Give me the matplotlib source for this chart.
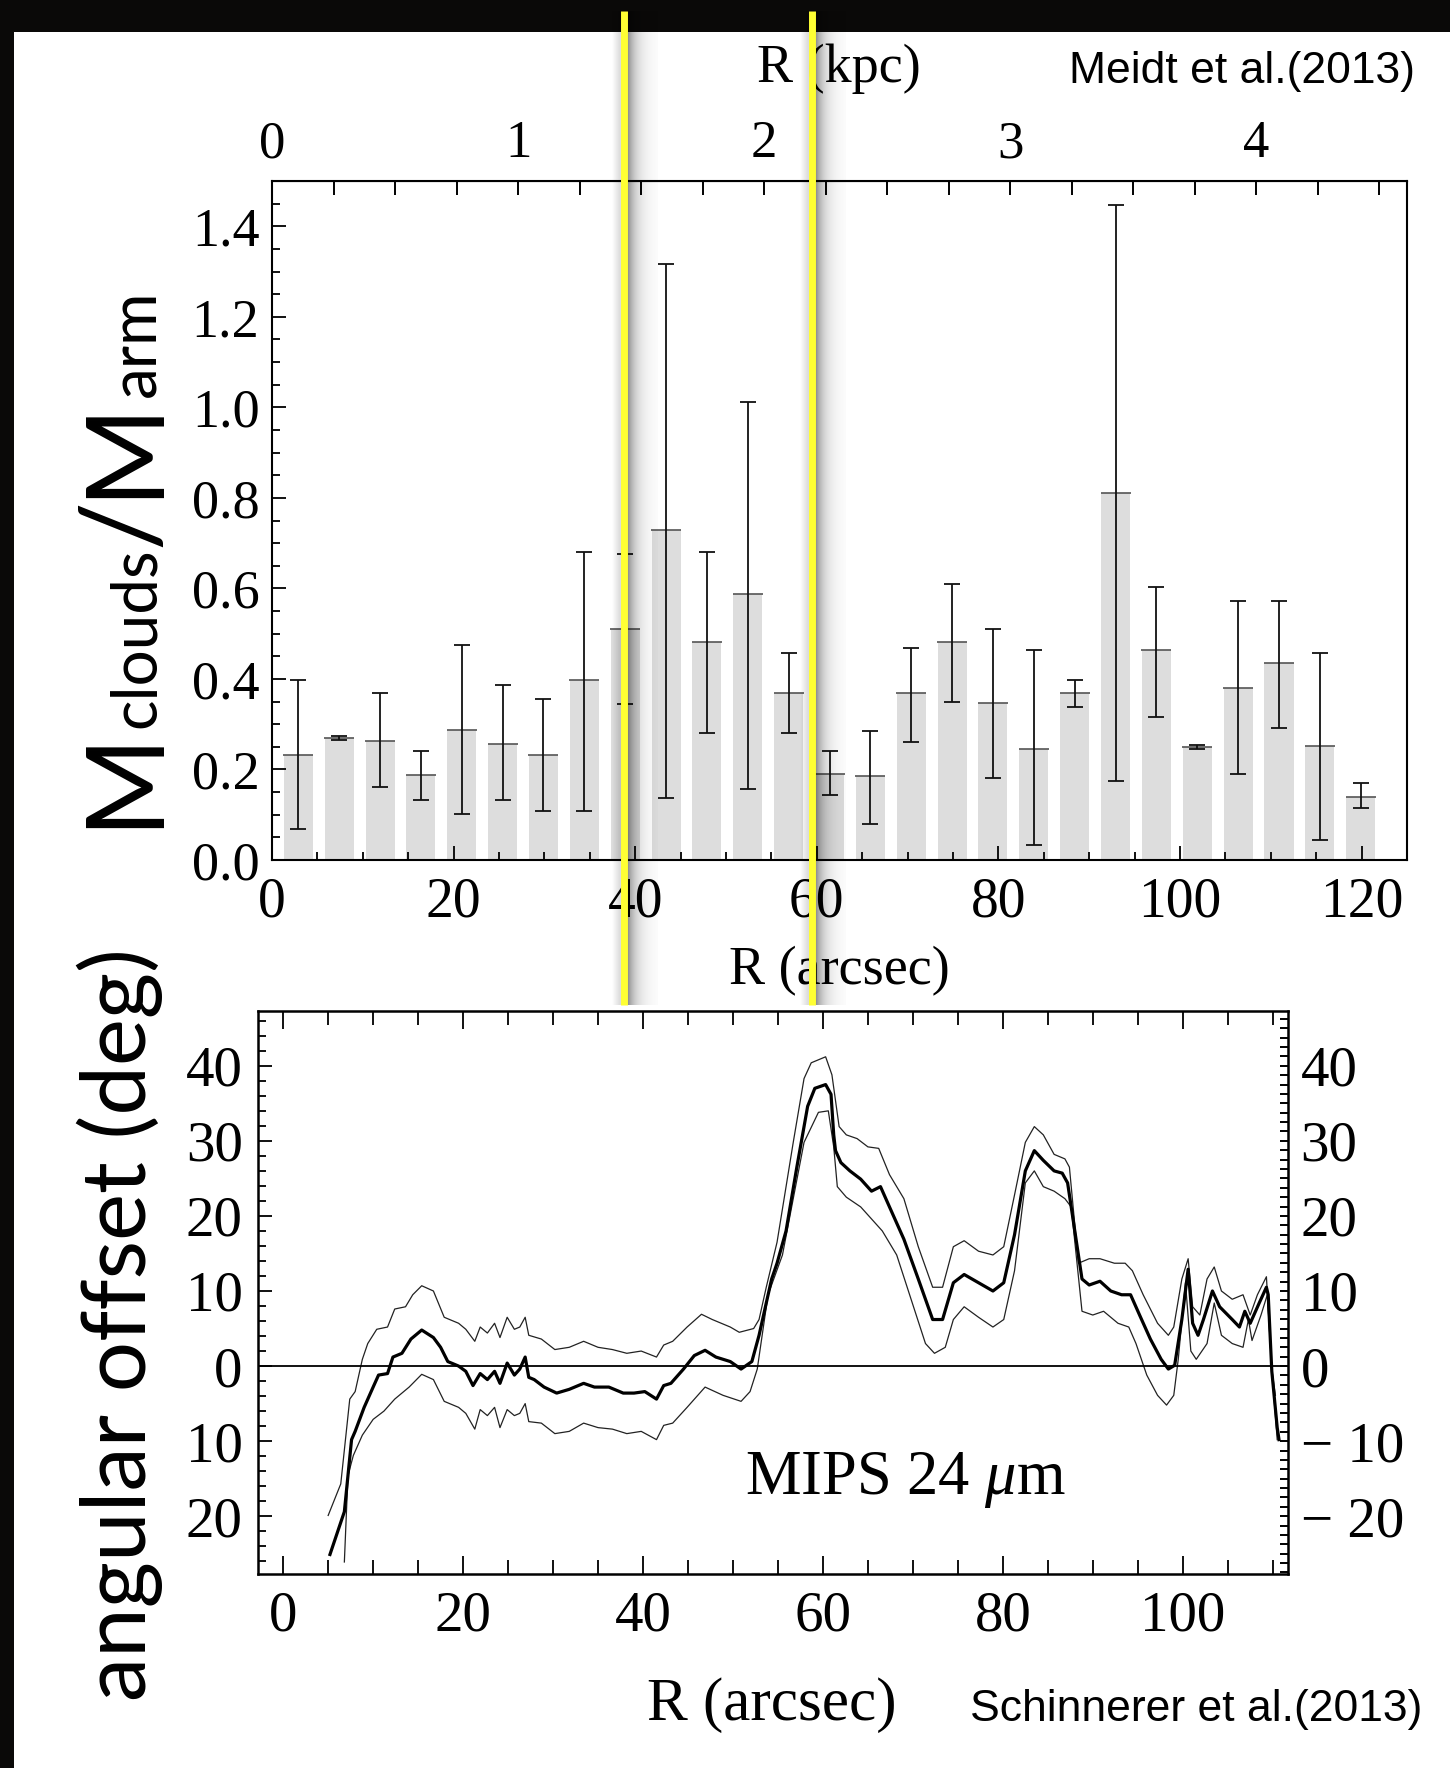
import numpy as np
import matplotlib.pyplot as plt
from matplotlib.ticker import MultipleLocator, FormatStrFormatter, FuncFormatter

plt.rcParams['font.family'] = 'Liberation Serif'
plt.rcParams['mathtext.fontset'] = 'custom'
plt.rcParams['mathtext.rm'] = 'Liberation Serif'
plt.rcParams['mathtext.it'] = 'Liberation Serif:italic'

W, H = 1450, 1768

# cloud mass fraction per radial bin (Meidt et al. 2013)
r_bin = [2.9, 7.4, 11.9, 16.4, 20.9, 25.4, 29.9, 34.4, 38.9, 43.4, 47.9, 52.4, 56.9, 61.4,
         65.9, 70.4, 74.9, 79.4, 83.9, 88.4, 92.9, 97.4, 101.9, 106.4, 110.9, 115.4, 119.9]
ratio = [0.233, 0.270, 0.263, 0.187, 0.287, 0.257, 0.233, 0.398, 0.510, 0.729, 0.481, 0.587, 0.368, 0.191,
         0.186, 0.368, 0.481, 0.346, 0.246, 0.370, 0.811, 0.465, 0.250, 0.381, 0.435, 0.251, 0.140]
ratio_hi = [0.398, 0.275, 0.368, 0.240, 0.474, 0.386, 0.356, 0.681, 0.676, 1.317, 0.681, 1.012, 0.457, 0.240,
            0.286, 0.468, 0.610, 0.510, 0.464, 0.398, 1.447, 0.604, 0.254, 0.573, 0.573, 0.457, 0.169]
ratio_lo = [0.069, 0.265, 0.162, 0.132, 0.102, 0.132, 0.108, 0.108, 0.345, 0.137, 0.280, 0.156, 0.280, 0.144,
            0.079, 0.261, 0.349, 0.181, 0.033, 0.339, 0.174, 0.315, 0.246, 0.191, 0.291, 0.044, 0.114]

ARCSEC_PER_KPC = 27.1
r_marked = [38.8, 59.5]

# MIPS 24um angular offset vs radius (Schinnerer et al. 2013)
r_mid = [5.2, 6.8, 7.6, 8.0, 9.0, 10.0, 10.6, 11.6, 12.2, 13.2, 14.2, 15.4, 16.7, 17.5, 18.3, 19.5,
         20.3, 21.1, 21.9, 22.7, 23.5, 24.1, 24.9, 25.7, 26.3, 26.9, 27.3, 27.9, 29.0, 30.4, 31.8, 33.4,
         34.6, 36.2, 37.8, 39.0, 40.2, 41.5, 42.3, 43.1, 44.5, 45.7, 46.9, 48.1, 49.7, 50.9, 52.1, 52.9,
         53.7, 54.3, 54.9, 55.9, 57.1, 58.3, 59.1, 60.3, 60.9, 61.2, 61.4, 62.0, 63.0, 64.2, 65.4, 66.4,
         67.4, 69.0, 70.6, 72.2, 73.3, 74.5, 75.7, 77.3, 78.9, 80.1, 81.3, 82.5, 83.5, 84.5, 85.7, 86.6,
         87.2, 88.0, 88.8, 89.6, 90.8, 92.0, 93.2, 94.2, 95.2, 96.4, 97.6, 98.4, 99.1, 99.9, 100.6, 101.1,
         101.7, 102.3, 103.3, 104.1, 105.5, 106.3, 106.9, 107.5, 108.5, 109.3, 109.5, 109.9, 110.5, 110.7]
off_mid = [-25.1, -19.4, -9.8, -8.7, -5.5, -2.8, -1.2, -1.0, 1.2, 1.7, 3.6, 4.8, 3.8, 2.5, 0.6, 0.0,
           -0.7, -2.6, -1.0, -1.8, -0.7, -2.3, 0.4, -1.2, -0.4, 1.2, -1.5, -1.8, -2.8, -3.6, -3.1, -2.3,
           -2.8, -2.8, -3.6, -3.6, -3.4, -4.4, -2.6, -2.3, -0.4, 1.4, 2.1, 1.2, 0.6, -0.4, 0.6, 4.1,
           8.4, 11.6, 13.7, 18.0, 26.5, 34.6, 37.0, 37.5, 36.2, 30.8, 28.7, 27.1, 26.0, 24.9, 23.3, 23.9,
           21.2, 16.9, 11.6, 6.2, 6.2, 11.1, 12.2, 11.1, 10.0, 11.1, 17.5, 26.0, 28.7, 27.4, 26.0, 25.7,
           24.4, 18.0, 11.6, 10.8, 11.3, 10.0, 9.5, 9.5, 6.8, 3.6, 0.9, -0.4, 0.1, 6.2, 12.9, 5.7,
           4.1, 6.2, 10.0, 7.9, 6.2, 5.2, 7.3, 5.7, 8.4, 10.5, 9.5, -0.7, -8.2, -9.8]

r_up = [5.0, 6.4, 7.4, 8.0, 8.8, 9.4, 10.4, 11.6, 12.4, 13.6, 14.4, 15.4, 16.7, 17.9, 19.5, 20.3,
        21.3, 21.9, 22.7, 23.5, 24.1, 24.9, 25.7, 26.3, 26.9, 27.3, 28.7, 30.2, 31.8, 33.4, 35.0, 36.6,
        38.2, 39.8, 41.5, 42.3, 43.3, 44.9, 46.5, 47.7, 49.7, 50.7, 52.3, 52.9, 53.7, 54.9, 56.7, 57.9,
        58.7, 60.3, 61.0, 61.8, 62.6, 63.8, 65.0, 66.2, 67.4, 69.0, 70.6, 72.2, 73.3, 74.5, 75.7, 77.3,
        78.9, 80.1, 81.3, 82.5, 83.5, 84.5, 85.7, 86.9, 87.4, 88.4, 89.6, 90.8, 92.4, 93.6, 94.4, 95.6,
        97.2, 98.4, 99.0, 99.9, 100.6, 101.1, 101.9, 102.7, 103.5, 104.3, 105.5, 106.7, 107.5, 108.3, 109.3, 109.9,
        110.3]
off_up = [-19.9, -15.7, -4.4, -3.4, 0.9, 3.0, 4.9, 5.2, 7.6, 7.9, 9.5, 10.7, 10.0, 6.5, 5.7, 4.9,
          3.3, 5.2, 4.4, 5.7, 3.8, 6.5, 4.9, 5.2, 6.5, 4.1, 3.6, 2.2, 2.5, 3.3, 2.5, 2.2,
          1.7, 2.0, 1.2, 2.8, 3.3, 5.2, 6.9, 6.2, 5.2, 4.5, 5.0, 6.2, 10.5, 16.5, 29.8, 38.3,
          40.4, 41.2, 38.8, 31.9, 30.8, 30.3, 29.2, 29.0, 25.5, 22.3, 15.9, 10.5, 10.5, 15.9, 16.7, 15.3,
          14.8, 15.9, 22.8, 29.8, 31.9, 30.8, 28.2, 27.6, 26.5, 13.7, 14.3, 14.3, 13.7, 13.7, 12.7, 9.5,
          5.7, 4.1, 5.2, 11.6, 14.3, 7.9, 6.8, 11.6, 13.2, 10.0, 8.9, 9.5, 6.8, 9.5, 11.9, -0.4,
          -3.9]

r_dn = [6.8, 7.2, 7.8, 8.8, 10.0, 11.2, 12.4, 14.0, 15.4, 16.7, 17.9, 19.5, 20.3, 21.3, 21.9, 22.7,
        23.5, 24.1, 24.9, 25.7, 26.3, 26.9, 27.3, 28.7, 30.2, 31.8, 33.4, 35.0, 36.6, 38.2, 39.8, 41.5,
        42.3, 43.3, 44.9, 46.9, 48.9, 50.9, 51.9, 52.7, 53.9, 55.5, 56.7, 57.9, 59.5, 60.6, 61.2, 61.6,
        62.6, 64.2, 65.4, 66.6, 68.2, 69.8, 71.4, 72.4, 73.6, 74.5, 75.7, 77.3, 78.9, 80.1, 81.3, 82.5,
        83.5, 84.5, 85.7, 86.9, 87.6, 88.8, 90.0, 91.2, 92.8, 94.0, 94.8, 96.0, 97.2, 98.2, 99.0, 99.5,
        100.3, 100.9, 101.5, 102.7, 103.5, 104.3, 105.5, 106.7, 107.3, 107.7, 108.7, 109.4, 109.9, 110.5]
off_dn = [-26.1, -14.6, -11.9, -9.2, -7.1, -6.0, -4.4, -2.8, -1.1, -1.8, -4.7, -5.5, -6.3, -8.4, -5.8, -6.6,
          -5.5, -8.2, -5.8, -6.6, -6.3, -5.0, -7.4, -7.6, -9.0, -8.7, -7.6, -8.2, -8.4, -9.0, -8.7, -9.8,
          -7.9, -7.6, -5.5, -2.8, -3.9, -4.7, -3.4, -0.4, 9.5, 14.8, 22.3, 29.8, 33.8, 34.0, 29.2, 23.9,
          22.5, 21.2, 19.6, 18.0, 14.8, 8.9, 3.0, 1.7, 2.5, 6.2, 7.9, 6.5, 5.2, 6.2, 12.7, 24.4,
          26.0, 23.9, 23.3, 22.3, 21.2, 7.3, 6.8, 7.3, 5.7, 5.2, 3.0, -1.2, -3.9, -5.2, -3.9, 0.9,
          11.1, 2.0, 0.9, 3.0, 8.4, 4.1, 3.0, 2.5, 6.2, 3.4, 6.8, 9.5, -0.4, -9.8]


def box(left, top, right, bottom):
    # pixel edges (from the top-left corner) -> figure fraction rectangle
    return [left / W, 1 - bottom / H, (right - left) / W, (bottom - top) / H]


def put(x, y, s, **kw):
    return fig.text(x / W, 1 - y / H, s, **kw)


fig = plt.figure(figsize=(W / 100, H / 100), dpi=100, facecolor='#0a0908')
fig.patches.append(plt.Rectangle((14 / W, 0), 1, 1 - 32 / H, transform=fig.transFigure,
                                 facecolor='white', edgecolor='none', zorder=-1))

# ---- top panel: M_clouds / M_arm ----
ax1 = fig.add_axes(box(272, 181, 1407, 860))
ratio = np.array(ratio)
yerr = [ratio - np.array(ratio_lo), np.array(ratio_hi) - ratio]
ax1.bar(r_bin, ratio, width=3.2, color='#dddddd', zorder=1)
ax1.plot(r_bin, ratio, ls='none', marker='_', ms=21, mew=1.2, color='#555555', zorder=2)
ax1.errorbar(r_bin, ratio, yerr=yerr, fmt='none', ecolor='#111111', elinewidth=1.3,
             capsize=5.5, capthick=1.3, zorder=3)
ax1.set_xlim(0, 125)
ax1.set_ylim(0, 1.5)
ax1.xaxis.set_major_locator(MultipleLocator(20))
ax1.xaxis.set_minor_locator(MultipleLocator(5))
ax1.yaxis.set_major_locator(MultipleLocator(0.2))
ax1.yaxis.set_minor_locator(MultipleLocator(0.05))
ax1.yaxis.set_major_formatter(FormatStrFormatter('%.1f'))
ax1.tick_params(which='both', direction='in', top=False, right=False, width=1.4, color='#111111')
ax1.tick_params(which='major', length=10)
ax1.tick_params(which='minor', length=5.5)
ax1.tick_params(axis='x', labelsize=40, pad=12)
ax1.tick_params(axis='y', labelsize=39, pad=9)
for sp in ax1.spines.values():
    sp.set_linewidth(1.5)

kpc = ax1.secondary_xaxis('top', functions=(lambda r: r / ARCSEC_PER_KPC,
                                            lambda k: k * ARCSEC_PER_KPC))
kpc.set_xticks([0, 1, 2, 3, 4])
kpc.xaxis.set_minor_locator(MultipleLocator(0.25))
kpc.tick_params(which='both', direction='in', length=10, width=1.4, labelsize=38, pad=9)

put(839, 82, 'R (kpc)', ha='center', va='baseline', fontsize=39)
put(839, 984, 'R (arcsec)', ha='center', va='baseline', fontsize=39)
put(1415, 83, 'Meidt et al.(2013)', ha='right', va='baseline', fontsize=32,
    family='Liberation Sans')

# ---- bottom panel: angular offset ----
ax2 = fig.add_axes(box(258, 1011, 1288, 1574))
ax2.plot(r_up, off_up, color='#222222', lw=0.9)
ax2.plot(r_dn, off_dn, color='#222222', lw=0.9)
ax2.plot(r_mid, off_mid, color='black', lw=2.3)
ax2.axhline(0, color='black', lw=1.3)
ax2.set_xlim(-2.8, 111.7)
ax2.set_ylim(-27.7, 47.3)
ax2.xaxis.set_major_locator(MultipleLocator(20))
ax2.xaxis.set_minor_locator(MultipleLocator(5))
ax2.yaxis.set_major_locator(MultipleLocator(10))
ax2.yaxis.set_minor_locator(MultipleLocator(2))
ax2.yaxis.set_major_formatter(FuncFormatter(lambda v, p: f'{abs(v):g}'))
ax2.tick_params(which='both', direction='in', top=True, right=False, width=1.4, color='#111111')
ax2.tick_params(axis='x', which='major', length=13)
ax2.tick_params(axis='x', which='minor', length=10)
ax2.tick_params(axis='y', which='major', length=10)
ax2.tick_params(axis='y', which='minor', length=6)
ax2.tick_params(axis='x', labelsize=41, pad=12)
ax2.tick_params(axis='y', labelsize=41, pad=11)
for sp in ax2.spines.values():
    sp.set_linewidth(1.8)

rax = ax2.secondary_yaxis('right')
rax.set_yticks([-20, -10, 0, 10, 20, 30, 40])
rax.set_yticklabels(['\u2212 20', '\u2212 10', '0', '10', '20', '30', '40'])
rax.yaxis.set_minor_locator(MultipleLocator(1.25))
rax.tick_params(which='both', direction='in', length=6, width=1.4, labelsize=41, pad=9)

put(745, 1494, 'MIPS 24 $\\mu$m', ha='left', va='baseline', fontsize=45)
put(772, 1720, 'R (arcsec)', ha='center', va='baseline', fontsize=44)
put(1422, 1721, 'Schinnerer et al.(2013)', ha='right', va='baseline', fontsize=32,
    family='Liberation Sans')

# ---- big sans y labels ----
renderer = fig.canvas.get_renderer()
y = H - 828
for s, size in [('M', 78), ('clouds', 46), ('/', 78), ('M', 78), ('arm', 46)]:
    t = fig.text(155 / W, y / H, s, rotation=90, rotation_mode='anchor', ha='left',
                 va='baseline', fontsize=size, family='Lato')
    y += t.get_window_extent(renderer).height

fig.text(146 / W, 1 - 1325 / H, 'angular offset (deg)', rotation=90, rotation_mode='anchor',
         ha='center', va='baseline', fontsize=64, family='Lato')

# ---- yellow markers with soft drop shadow ----
ov = fig.add_axes([0, 0, 1, 1], zorder=5)
ov.axis('off')
ov.patch.set_alpha(0)
d = np.arange(-12, 34) + 0.5
alpha = np.where(d > 0, 0.45 * np.exp(-np.clip(d - 4, 0, None) / 9.0),
                 0.14 * np.clip(1 + (d + 4) / 8.0, 0, 1))
shade = np.zeros((1, d.size, 4))
shade[0, :, 3] = alpha
for r in r_marked:
    xd = ax1.transData.transform((r, 0))[0]
    ov.imshow(shade, extent=(xd - 12, xd + 34, 1005, 11), aspect='auto',
              interpolation='bilinear', zorder=1)
    ov.plot([xd, xd], [11, 1005], color='#ffff33', lw=5, solid_capstyle='butt', zorder=2)
ov.set_xlim(0, W)
ov.set_ylim(H, 0)

fig.savefig('out.png', dpi=100, facecolor=fig.get_facecolor())
